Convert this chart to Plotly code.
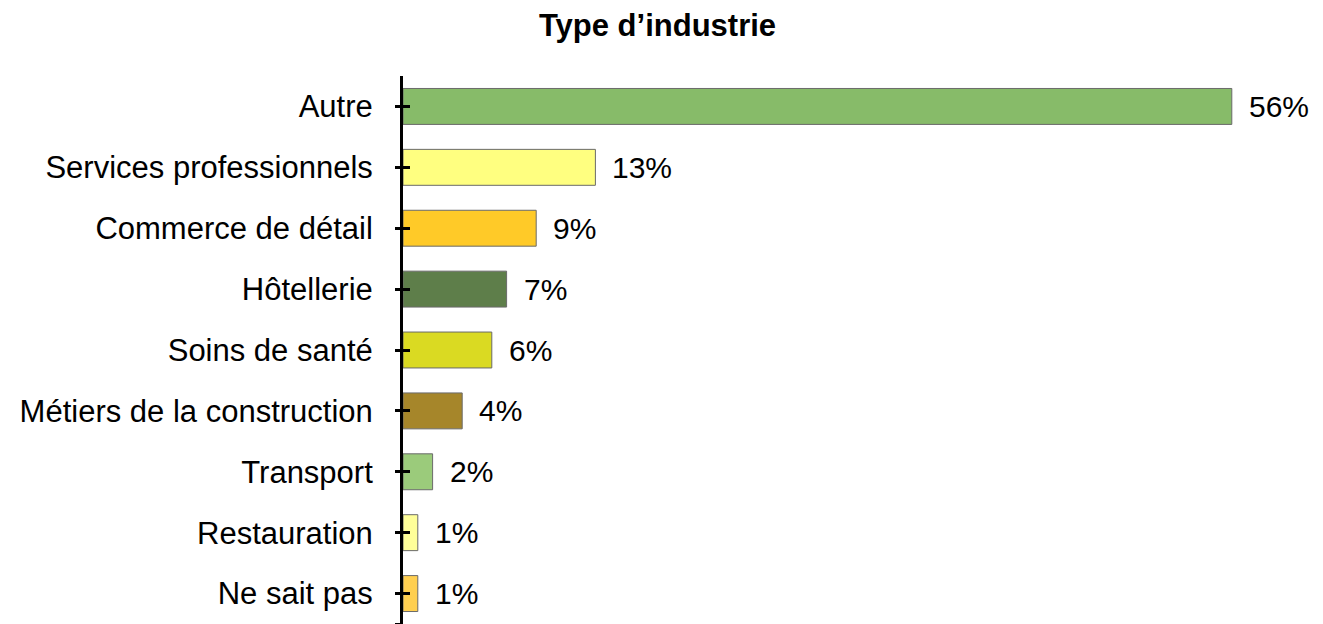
import plotly.graph_objects as go

# Répartition par type d'industrie (en %)
categories = [
    "Autre",
    "Services professionnels",
    "Commerce de détail",
    "Hôtellerie",
    "Soins de santé",
    "Métiers de la construction",
    "Transport",
    "Restauration",
    "Ne sait pas",
]
values = [56, 13, 9, 7, 6, 4, 2, 1, 1]
bar_colors = [
    "#87BB69",
    "#FFFF80",
    "#FFCA28",
    "#5E7E4A",
    "#DADA22",
    "#A6862A",
    "#9BCB7B",
    "#FFFF99",
    "#FFCF50",
]
title_text = "Type d’industrie"

FONT = "Liberation Sans, Arial, sans-serif"
n = len(categories)

fig = go.Figure()
fig.add_trace(
    go.Bar(
        x=values,
        y=categories,
        orientation="h",
        marker=dict(color=bar_colors, line=dict(color="#6a6a6a", width=1)),
        hoverinfo="skip",
        showlegend=False,
    )
)

# empty trace so the tick-only overlay axis gets rendered
fig.add_trace(
    go.Scatter(x=[None], y=[None], yaxis="y2", mode="markers",
               hoverinfo="skip", showlegend=False)
)

# value labels to the right of each bar
for cat, val in zip(categories, values):
    fig.add_annotation(
        x=val, y=cat, xref="x", yref="y",
        text=f"{val}%", showarrow=False,
        xanchor="left", yanchor="middle", xshift=15,
        font=dict(family=FONT, size=30, color="#000000"),
    )

tick_positions = list(range(n)) + [n - 0.5]

fig.update_layout(
    width=1323,
    height=624,
    margin=dict(l=403, r=32, t=76, b=0),
    paper_bgcolor="white",
    plot_bgcolor="white",
    bargap=0.41,
    title=dict(
        text=f"<b>{title_text}</b>",
        x=0.497, xanchor="center",
        y=1 - 25 / 624, yanchor="middle", yref="container",
        font=dict(family=FONT, size=31, color="#000000"),
    ),
    xaxis=dict(
        range=[0, 60],
        visible=False,
        fixedrange=True,
    ),
    yaxis=dict(
        type="category",
        categoryorder="array",
        categoryarray=categories,
        range=[n - 0.5, -0.5],
        showline=True, linecolor="#000000", linewidth=3,
        ticks="inside", ticklen=7, tickwidth=3, tickcolor="#000000",
        layer="above traces",
        showgrid=False, zeroline=False,
        ticklabelstandoff=21,
        tickfont=dict(family=FONT, size=31, color="#000000"),
    ),
    yaxis2=dict(
        overlaying="y", anchor="x", side="left",
        range=[n - 0.5, -0.5],
        tickmode="array", tickvals=tick_positions,
        ticks="outside", ticklen=7, tickwidth=3, tickcolor="#000000",
        showticklabels=False, showgrid=False, zeroline=False, showline=False,
    ),
)

fig.write_html("out.html")
